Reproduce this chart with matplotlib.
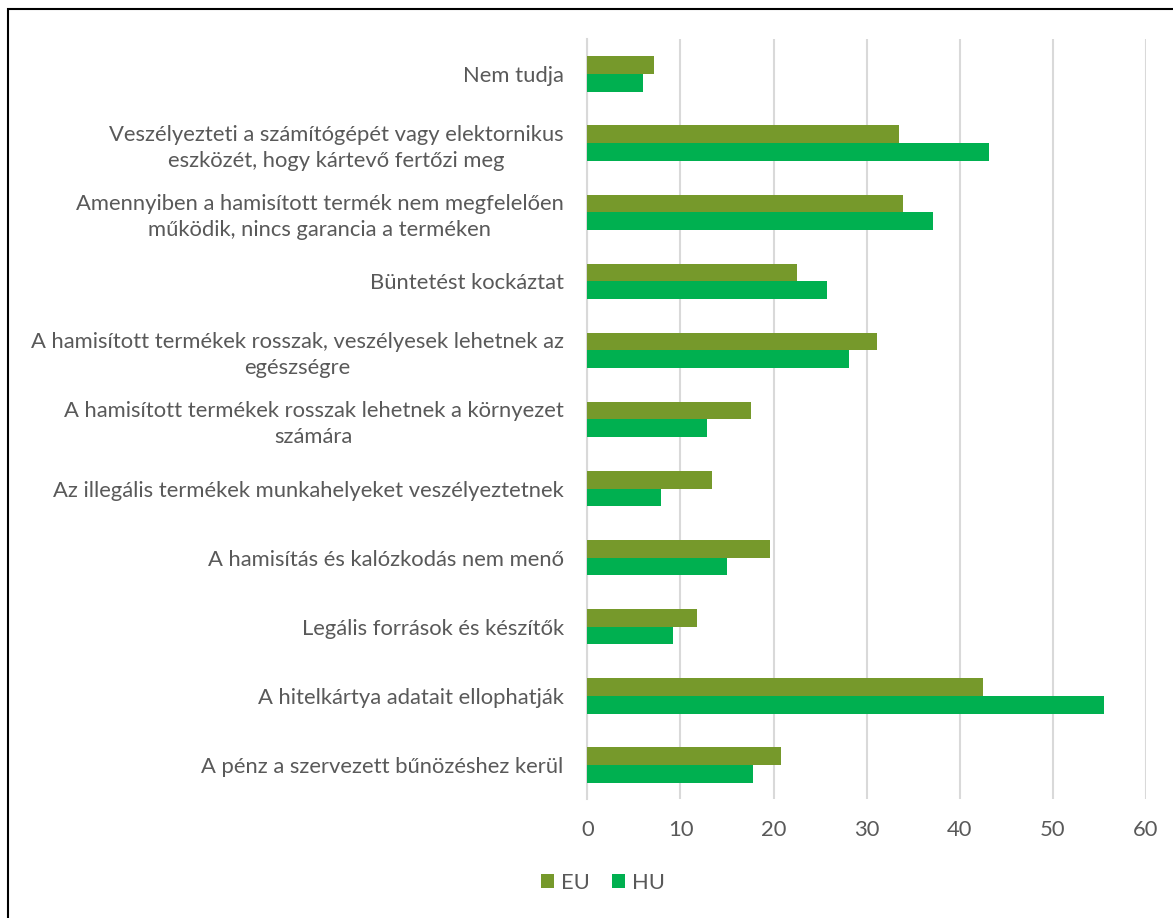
import numpy as np
import matplotlib
matplotlib.use("Agg")
import matplotlib.pyplot as plt
from matplotlib.patches import Rectangle

plt.rcParams['font.family'] = ['Lato', 'DejaVu Sans']

COL_EU = "#76992b"
COL_HU = "#00b050"
COL_TEXT = "#595959"
COL_GRID = "#d9d9d9"
FS = 15.8

# Categories, top to bottom
categories = [
    "Nem tudja",
    "Veszélyezteti a számítógépét vagy elektornikus\neszközét, hogy kártevő fertőzi meg",
    "Amennyiben a hamisított termék nem megfelelően\nműködik, nincs garancia a terméken",
    "Büntetést kockáztat",
    "A hamisított termékek rosszak, veszélyesek lehetnek az\negészségre",
    "A hamisított termékek rosszak lehetnek a környezet\nszámára",
    "Az illegális termékek munkahelyeket veszélyeztetnek",
    "A hamisítás és kalózkodás nem menő",
    "Legális források és készítők",
    "A hitelkártya adatait ellophatják",
    "A pénz a szervezett bűnözéshez kerül",
]
eu_values = [7.2, 33.5, 33.9, 22.5, 31.1, 17.6, 13.4, 19.6, 11.8, 42.5, 20.8]
hu_values = [6.0, 43.1, 37.1, 25.7, 28.1, 12.8, 7.9, 15.0, 9.2, 55.5, 17.8]
x_ticks = [0, 10, 20, 30, 40, 50, 60]

fig = plt.figure(figsize=(11.73, 9.18), dpi=100)
ax = fig.add_axes([0.5007, 0.1291, 0.4763, 0.8279])

y = np.arange(len(categories))
h = 0.256
ax.barh(y - h / 2, eu_values, height=h, color=COL_EU, label="EU", zorder=3)
ax.barh(y + h / 2, hu_values, height=h, color=COL_HU, label="HU", zorder=3)

ax.set_xlim(0, 60)
ax.set_ylim(len(categories) - 0.5, -0.5)
ax.set_xticks(x_ticks)
ax.set_yticks(y)
ax.set_yticklabels(categories)
for lbl in ax.get_yticklabels():
    lbl.set_multialignment("center")
    lbl.set_linespacing(1.35)

ax.tick_params(axis="both", length=0, labelsize=FS, colors=COL_TEXT)
ax.tick_params(axis="y", pad=17)
ax.tick_params(axis="x", pad=15)

ax.grid(axis="x", color=COL_GRID, linewidth=1.5, zorder=0)
for side in ["top", "right", "bottom"]:
    ax.spines[side].set_visible(False)
ax.spines["left"].set_color(COL_GRID)
ax.spines["left"].set_linewidth(1.5)

fig.legend(loc="center", bbox_to_anchor=(0.514, 0.038), ncol=2, frameon=False,
           fontsize=FS, labelcolor=COL_TEXT, handlelength=0.6, handleheight=0.6,
           handletextpad=0.3, columnspacing=1.0)

# outer chart frame
fig.patches.append(Rectangle((8 / 1173, -0.05), 1.2, 1 - 9 / 918 + 0.05,
                             transform=fig.transFigure, fill=False,
                             edgecolor="black", linewidth=1.5))

fig.savefig("out.png", dpi=100)
